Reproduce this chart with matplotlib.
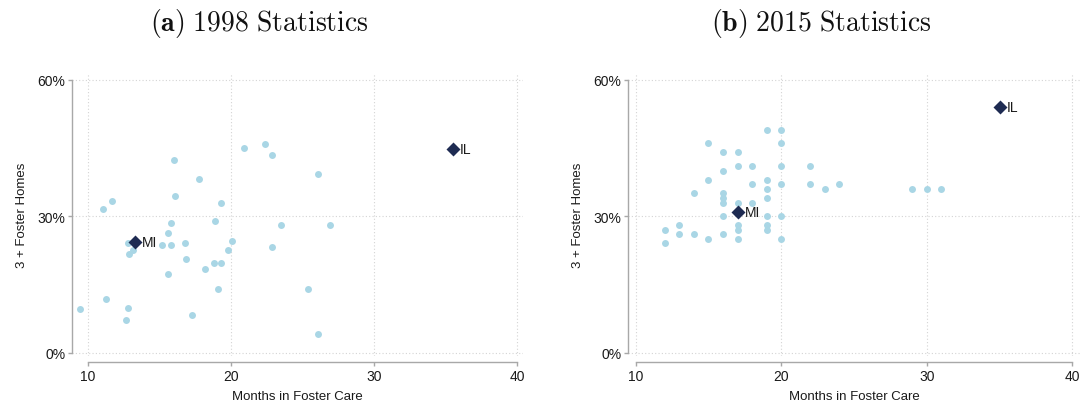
import matplotlib
matplotlib.use("Agg")
import matplotlib.pyplot as plt
from matplotlib.ticker import FuncFormatter

plt.rcParams['font.family'] = ['Liberation Sans', 'DejaVu Sans']
plt.rcParams['mathtext.fontset'] = 'cm'

# ---- data: panel (a) 1998 ----
months_1998 = [9.5, 11.1, 11.7, 11.3, 12.8, 12.7, 12.8, 12.9, 13.2, 15.2,
               15.8, 15.6, 15.8, 16.0, 16.1, 15.6, 16.8, 16.9, 17.3, 17.8,
               18.2, 18.9, 18.8, 19.3, 19.1, 19.3, 19.8, 20.1, 20.9, 22.4,
               22.9, 23.5, 22.9, 25.4, 26.1, 26.9, 26.1]
homes_1998 = [9.6, 31.5, 33.4, 11.7, 9.8, 7.1, 24.2, 21.7, 22.5, 23.7,
              23.7, 26.4, 28.5, 42.3, 34.4, 17.4, 24.2, 20.7, 8.4, 38.2,
              18.4, 28.9, 19.8, 19.7, 14.1, 32.8, 22.6, 24.5, 44.9, 45.8,
              43.4, 28.0, 23.3, 14.1, 39.2, 28.1, 4.2]
hl_states_1998 = ["MI", "IL"]
hl_months_1998 = [13.3, 35.5]
hl_homes_1998 = [24.3, 44.7]

# ---- data: panel (b) 2015 ----
months_2015 = [12, 12, 13, 13, 14, 14, 15, 15, 15, 16, 16, 16, 16, 16, 16, 16,
               17, 17, 17, 17, 17, 17, 18, 18, 18, 19, 19, 19, 19, 19, 19, 19,
               20, 20, 20, 20, 20, 20, 22, 22, 23, 24, 29, 30, 31]
homes_2015 = [27, 24, 28, 26, 35, 26, 46, 38, 25, 44, 40, 35, 34, 33, 30, 26,
              44, 41, 33, 28, 27, 25, 41, 37, 33, 49, 38, 36, 34, 30, 28, 27,
              49, 46, 41, 37, 30, 25, 41, 37, 36, 37, 36, 36, 36]
hl_states_2015 = ["MI", "IL"]
hl_months_2015 = [17, 35]
hl_homes_2015 = [30.9, 53.9]

titles = [r"$\mathbf{(a)}$ $\mathrm{1998\ Statistics}$",
          r"$\mathbf{(b)}$ $\mathrm{2015\ Statistics}$"]
xlabel = "Months in Foster Care"
ylabel = "3 + Foster Homes"
xticks = [10, 20, 30, 40]
yticks = [0, 30, 60]

DOT = "#a9d6e5"
NAVY = "#1e2b52"
GRID = "#d4d4d4"
SPINE = "#a8a8a8"
TXT = "#1a1a1a"

W, H = 1081, 402
fig = plt.figure(figsize=(W / 100, H / 100), dpi=100)

panels = [
    dict(box=(72.3, 523, 74.2, 357.4), xlim=(8.93, 40.4), title_x=259,
         mx=months_1998, my=homes_1998, hs=hl_states_1998, hx=hl_months_1998, hy=hl_homes_1998),
    dict(box=(628.3, 1080, 74.2, 357.4), xlim=(9.49, 40.53), title_x=821,
         mx=months_2015, my=homes_2015, hs=hl_states_2015, hx=hl_months_2015, hy=hl_homes_2015),
]

for p, title in zip(panels, titles):
    l, r, t, b = p['box']
    ax = fig.add_axes([l / W, 1 - b / H, (r - l) / W, (b - t) / H])
    ax.set_xlim(*p['xlim'])
    ax.set_ylim(-0.8, 61.4)
    ax.set_xticks(xticks)
    ax.set_yticks(yticks)
    ax.yaxis.set_major_formatter(FuncFormatter(lambda v, pos: f"{v:.0f}%"))
    ax.grid(True, color=GRID, linestyle=(0, (1, 2)), linewidth=0.8)
    ax.set_axisbelow(True)
    for s in ['top', 'right']:
        ax.spines[s].set_visible(False)
    ax.spines['left'].set_bounds(0, 60)
    ax.spines['bottom'].set_bounds(10, 40)
    ax.spines['bottom'].set_position(('outward', 4))
    for s in ['left', 'bottom']:
        ax.spines[s].set_color(SPINE)
        ax.spines[s].set_linewidth(1.0)
    ax.tick_params(direction='out', length=3, width=1.0, color=SPINE,
                   labelsize=10, labelcolor=TXT, pad=2)
    ax.set_xlabel(xlabel, fontsize=9.5, color=TXT, labelpad=5)
    ax.set_ylabel(ylabel, fontsize=9.5, color=TXT, labelpad=7)

    ax.plot(p['mx'], p['my'], linestyle='none', marker='o', ms=5,
            mfc=DOT, mec='none', zorder=3)
    ax.plot(p['hx'], p['hy'], linestyle='none', marker='D', ms=7,
            mfc=NAVY, mec='none', zorder=4)
    for s, x, y in zip(p['hs'], p['hx'], p['hy']):
        ax.annotate(s, (x, y), xytext=(5, 0), textcoords='offset points',
                    ha='left', va='center', fontsize=10, color=TXT, zorder=5)

    fig.text(p['title_x'] / W, 1 - 23 / H, title, ha='center', va='center',
             fontsize=20, color='#111111')

fig.savefig("out.png", dpi=100)
